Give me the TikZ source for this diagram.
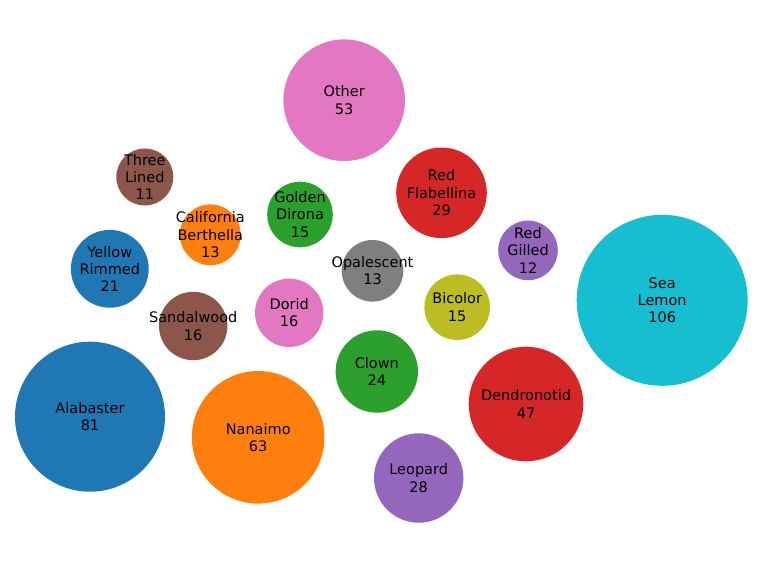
\documentclass[tikz,border=0pt]{standalone}
\usepackage{xcolor}
\usepackage{tikz}
\usetikzlibrary{positioning}
\usepackage{fontspec}
\setmainfont{DejaVu Sans}
\definecolor{tabblue}{HTML}{1F77B4}
\definecolor{taborange}{HTML}{FF7F0E}
\definecolor{tabgreen}{HTML}{2CA02C}
\definecolor{tabred}{HTML}{D62728}
\definecolor{tabpurple}{HTML}{9467BD}
\definecolor{tabbrown}{HTML}{8C564B}
\definecolor{tabpink}{HTML}{E377C2}
\definecolor{tabgray}{HTML}{7F7F7F}
\definecolor{tabolive}{HTML}{BCBD22}
\definecolor{tabcyan}{HTML}{17BECF}
\tikzset{
  bubble/.style={circle, inner sep=0pt, draw=none, fill=#1},
  bubtext/.style={align=center, inner sep=0pt, font=\fontsize{14.5}{17.3}\selectfont}
}

\begin{document}
\begin{tikzpicture}[x=1pt, y=-1pt]
\useasboundingbox (0,0) rectangle (762,563);
% bubbles
\node[bubble=tabpink, minimum size=121.6pt] (other) at (344.2,100.2) {};
\node[bubble=tabbrown, minimum size=57pt] (threelined) at (144.8,177) {};
\node[bubble=taborange, minimum size=60.8pt] (california) at (210.3,234.8) {};
\node[bubble=tabgreen, minimum size=65.6pt] (golden) at (300,214.5) {};
\node[bubble=tabred, minimum size=90.6pt] (redflab) at (441.5,192.8) {};
\node[bubble=tabpurple, minimum size=59.6pt] (redgilled) at (528,250.4) {};
\node[bubble=tabcyan, minimum size=171pt] (sealemon) at (662.2,300.3) {};
\node[bubble=tabblue, minimum size=77.8pt] (yellow) at (109.8,268.8) {};
\node[bubble=tabgray, minimum size=61.6pt] (opalescent) at (372.5,270.8) {};
\node[bubble=tabpink, minimum size=68.4pt] (dorid) at (289.2,312.8) {};
\node[bubble=tabbrown, minimum size=68.4pt] (sandalwood) at (193.2,326) {};
\node[bubble=tabolive, minimum size=65.6pt] (bicolor) at (457.2,307.2) {};
\node[bubble=tabgreen, minimum size=82.4pt] (clown) at (376.8,371.5) {};
\node[bubble=tabblue, minimum size=150pt] (alabaster) at (90,416.7) {};
\node[bubble=taborange, minimum size=132.6pt] (nanaimo) at (258.2,437.3) {};
\node[bubble=tabred, minimum size=114.6pt] (dendronotid) at (526,404) {};
\node[bubble=tabpurple, minimum size=89.4pt] (leopard) at (418.7,478) {};
% labels
\node[bubtext] (other-t) at (other) {Other\\53};
\node[bubtext] (threelined-t) at (threelined) {Three\\Lined\\11};
\node[bubtext] (california-t) at (california) {California\\Berthella\\13};
\node[bubtext] (golden-t) at (golden) {Golden\\Dirona\\15};
\node[bubtext] (redflab-t) at (redflab) {Red\\Flabellina\\29};
\node[bubtext] (redgilled-t) at (redgilled) {Red\\Gilled\\12};
\node[bubtext] (sealemon-t) at (sealemon) {Sea\\Lemon\\106};
\node[bubtext] (yellow-t) at (yellow) {Yellow\\Rimmed\\21};
\node[bubtext] (opalescent-t) at (opalescent) {Opalescent\\13};
\node[bubtext] (dorid-t) at (dorid) {Dorid\\16};
\node[bubtext] (sandalwood-t) at (sandalwood) {Sandalwood\\16};
\node[bubtext] (bicolor-t) at (bicolor) {Bicolor\\15};
\node[bubtext] (clown-t) at (clown) {Clown\\24};
\node[bubtext] (alabaster-t) at (alabaster) {Alabaster\\81};
\node[bubtext] (nanaimo-t) at (nanaimo) {Nanaimo\\63};
\node[bubtext] (dendronotid-t) at (dendronotid) {Dendronotid\\47};
\node[bubtext] (leopard-t) at (leopard) {Leopard\\28};
\end{tikzpicture}
\end{document}
